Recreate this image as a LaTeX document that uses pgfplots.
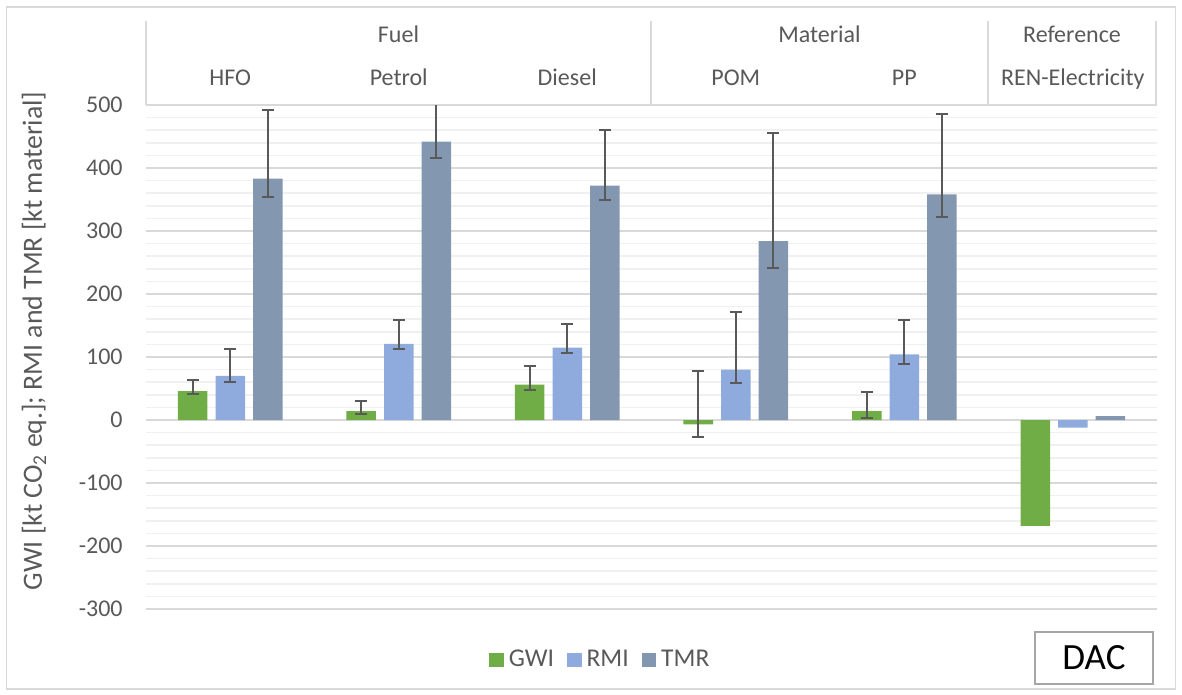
\documentclass[border=0pt]{standalone}
\usepackage{pgfplots}
\pgfplotsset{compat=1.18}
\usepackage{pgfplotstable}
\usepackage{fontspec}
\setmainfont{Carlito}
\definecolor{gwi}{RGB}{112,173,71}
\definecolor{rmi}{RGB}{143,170,220}
\definecolor{tmr}{RGB}{132,151,176}
\definecolor{errc}{RGB}{89,89,89}
\definecolor{txt}{RGB}{89,89,89}
\definecolor{majg}{RGB}{217,217,217}
\definecolor{ming}{RGB}{240,240,240}
\definecolor{dacc}{RGB}{166,166,166}
\newcommand\lbl{\fontsize{12}{14.4}\selectfont}

\pgfplotstableread{
c gwi rmi tmr
0 46 70 383
1 14 121 442
2 56 115 372
3 -7 80 284
4 14 104 358
5 -168 -12 6
}\bars

\pgfplotstableread{
c gwi gp gm rmi rp rm tmr tp tm
0 46 17.5 5 70 42 10 383 109 29.5
1 14 16 4 121 38 8 442 80 26
2 56 30 8 115 37 9 372 88 23
3 -7 85 19.5 80 92 21 284 171 43
4 14 30.5 11 104 54 14.5 358 128 35
}\errs

\pgfplotsset{
  mybar/.style={ybar, bar width=14.75pt, bar shift=0pt, draw=none, fill=#1,
    legend image code/.code={\fill[#1] (0pt,-3.6pt) rectangle (7.2pt,3.6pt);}},
}

\begin{document}
\begin{tikzpicture}
\begin{axis}[
  at={(73pt,-304.5pt)}, anchor=south west,
  scale only axis, width=505.5pt, height=252pt,
  xmin=-0.5, xmax=5.5, ymin=-300, ymax=500,
  xtick={0,...,5}, xticklabels={HFO,Petrol,Diesel,POM,PP,REN-Electricity},
  xticklabel pos=upper,
  xticklabel style={anchor=base, yshift=10pt, font=\lbl, text=txt, inner sep=0pt},
  ytick={-300,-200,...,500}, minor y tick num=4,
  yticklabel style={anchor=east, inner sep=0pt, xshift=-11.5pt, font=\lbl, text=txt},
  /pgf/number format/assume math mode=true,
  ymajorgrids, yminorgrids,
  major grid style={draw=majg, line width=0.8pt},
  minor grid style={draw=ming, line width=0.8pt},
  axis line style={draw=none},
  tick style={draw=none},
  major tick length=0pt, minor tick length=0pt,
  ylabel={GWI [kt CO\textsubscript{2} eq.]; RMI and TMR [kt material]},
  ylabel style={at={(axis description cs:-0.1108,0.532)}, anchor=center, font=\fontsize{13.9}{16}\selectfont, text=txt},
  legend style={at={(axis description cs:0.451,-0.101)}, anchor=center, draw=none, fill=none,
    legend columns=-1, font=\fontsize{12.8}{15}\selectfont, text=txt, nodes={inner sep=2.5pt},
    /tikz/every even column/.append style={column sep=4pt}},
  legend cell align=left,
]
\addplot[mybar=gwi] table[x expr=\thisrow{c}-0.2226, y=gwi]{\bars};
\addlegendentry{GWI}
\addplot[mybar=rmi] table[x expr=\thisrow{c}, y=rmi]{\bars};
\addlegendentry{RMI}
\addplot[mybar=tmr] table[x expr=\thisrow{c}+0.2226, y=tmr]{\bars};
\addlegendentry{TMR}
\addplot[forget plot, draw=none, mark=none,
  error bars/.cd, y dir=both, y explicit,
  error bar style={line width=1pt, draw=errc, solid},
  error mark options={rotate=90, line width=1pt, draw=errc, mark size=3pt, solid}]
  table[x expr=\thisrow{c}-0.2226, y=gwi, y error plus=gp, y error minus=gm]{\errs};
\addplot[forget plot, draw=none, mark=none,
  error bars/.cd, y dir=both, y explicit,
  error bar style={line width=1pt, draw=errc, solid},
  error mark options={rotate=90, line width=1pt, draw=errc, mark size=3pt, solid}]
  table[x expr=\thisrow{c}, y=rmi, y error plus=rp, y error minus=rm]{\errs};
\addplot[forget plot, draw=none, mark=none,
  error bars/.cd, y dir=both, y explicit,
  error bar style={line width=1pt, draw=errc, solid},
  error mark options={rotate=90, line width=1pt, draw=errc, mark size=3pt, solid}]
  table[x expr=\thisrow{c}+0.2226, y=tmr, y error plus=tp, y error minus=tm]{\errs};
\end{axis}
\begin{scope}[x=0.5pt,y=-0.5pt]
  \draw[majg, line width=0.8pt] (146,21)--(146,105) (651,21)--(651,105) (988,21)--(988,105) (1156,21)--(1156,105);
  \node[anchor=base, text=txt, font=\lbl, inner sep=0pt] at (398.5,43) {Fuel};
  \node[anchor=base, text=txt, font=\lbl, inner sep=0pt] at (819.5,43) {Material};
  \node[anchor=base, text=txt, font=\lbl, inner sep=0pt] at (1072,43) {Reference};
  \draw[majg, line width=0.8pt] (6.5,7) rectangle (1175.5,689);
  \draw[dacc, line width=1pt] (1035,632) rectangle (1153,684);
  \node[font=\fontsize{18.5}{21}\selectfont, inner sep=0pt] at (1094,658) {DAC};
\end{scope}
\pgfresetboundingbox
\path[use as bounding box] (0,0) rectangle (591pt,-347.5pt);
\end{tikzpicture}
\end{document}
